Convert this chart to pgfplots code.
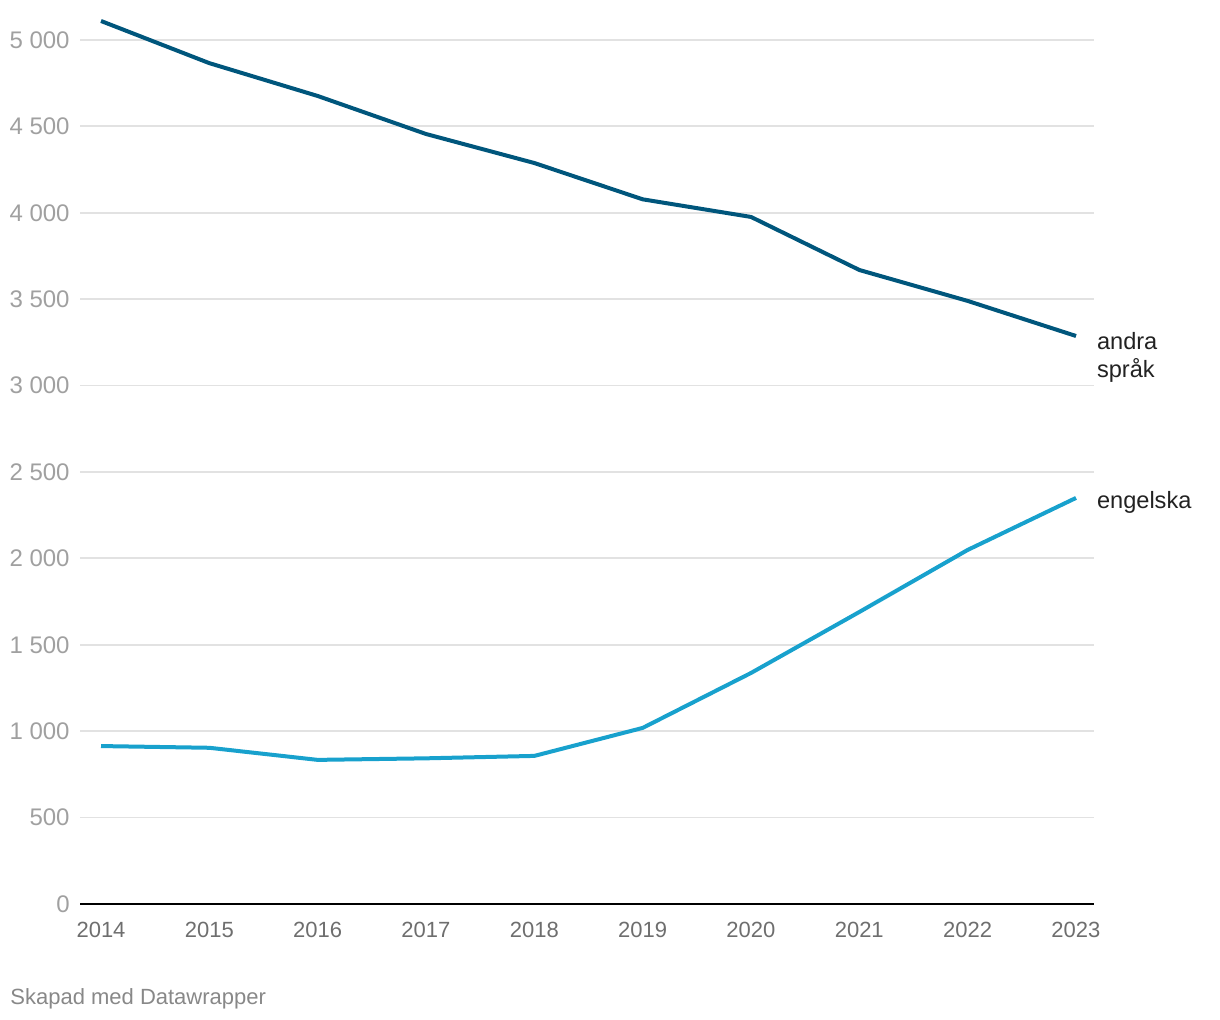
\documentclass[border=0pt]{standalone}
\usepackage{pgfplots}
\pgfplotsset{compat=1.18}
\usepackage{fontspec}
\setmainfont{Liberation Sans}
\definecolor{darkblue}{HTML}{00567C}
\definecolor{lightblue}{HTML}{18A1CD}
\definecolor{gridgray}{HTML}{E2E2E2}
\definecolor{ytickgray}{HTML}{A0A0A0}
\definecolor{xtickgray}{HTML}{6E6E6E}
\definecolor{creditgray}{HTML}{888888}
\definecolor{labelblack}{HTML}{222222}
\pgfplotstableread{
year value
2014 5110
2015 4866
2016 4676
2017 4456
2018 4288
2019 4078
2020 3976
2021 3669
2022 3490
2023 3287
}\andra
\pgfplotstableread{
year value
2014 914
2015 904
2016 834
2017 843
2018 857
2019 1019
2020 1337
2021 1690
2022 2049
2023 2350
}\engelska
\begin{document}
\begin{tikzpicture}
\path[use as bounding box] (0,0) rectangle (610bp,510bp);
\begin{axis}[
  at={(40bp,58bp)}, anchor=south west,
  scale only axis,
  width=507bp, height=432bp,
  xmin=2013.806, xmax=2023.166,
  ymin=0, ymax=5000,
  clip=false,
  axis line style={draw=none},
  xtick={2014,...,2023},
  xticklabels={2014,2015,2016,2017,2018,2019,2020,2021,2022,2023},
  ytick={0,500,...,5000},
  yticklabels={0,500,1 000,1 500,2 000,2 500,3 000,3 500,4 000,4 500,5 000},
  major tick length=0pt,
  tick style={draw=none},
  ymajorgrids,
  grid style={draw=gridgray, line width=0.9bp},
  xticklabel style={font=\fontsize{11bp}{13bp}\selectfont, text=xtickgray, anchor=base, inner sep=0pt, yshift=-16.8bp},
  yticklabel style={font=\fontsize{12bp}{14bp}\selectfont, text=ytickgray, anchor=east, inner sep=0pt, xshift=-5bp},
]
\addplot[line width=1.1bp, black] coordinates {(2013.806,0) (2023.166,0)};
\addplot[line width=2bp, darkblue, line join=round]
  table[x=year, y=value] {\andra}
  node[pos=1, anchor=base west, xshift=9.5bp, yshift=-6.5bp, text=labelblack, inner sep=0pt, font=\fontsize{11.8bp}{14bp}\selectfont] {andra}
  node[pos=1, anchor=base west, xshift=9.5bp, yshift=-20.5bp, text=labelblack, inner sep=0pt, font=\fontsize{11.8bp}{14bp}\selectfont] {språk};
\addplot[line width=2bp, lightblue, line join=round]
  table[x=year, y=value] {\engelska}
  node[pos=1, anchor=base west, xshift=9.5bp, yshift=-5.5bp, text=labelblack, inner sep=0pt, font=\fontsize{11.8bp}{14bp}\selectfont] {engelska};
\end{axis}
\node[anchor=base west, inner sep=0pt, text=creditgray, font=\fontsize{11bp}{13bp}\selectfont] at (5bp,8bp) {Skapad med Datawrapper};
\end{tikzpicture}
\end{document}
